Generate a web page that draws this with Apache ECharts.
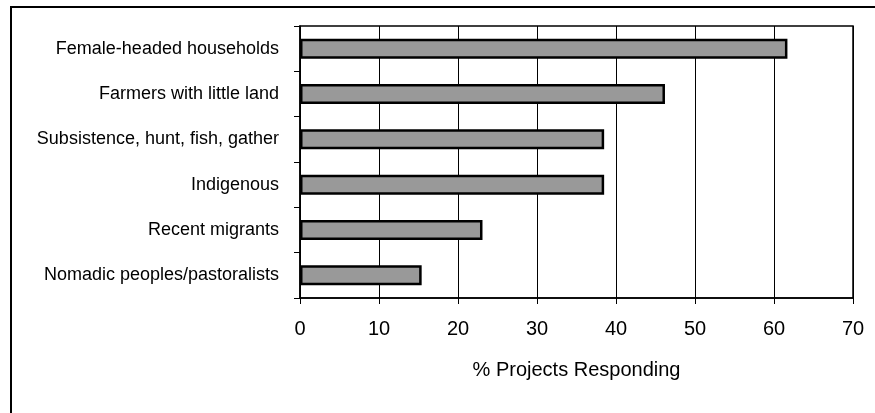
<!DOCTYPE html>
<html>
<head>
<meta charset="utf-8">
<script src="https://cdn.jsdelivr.net/npm/echarts@6/dist/echarts.min.js"></script>
<style>
  html, body { margin: 0; padding: 0; background: #fff; overflow: hidden; }
  #frame { position: absolute; left: 10px; top: 6px; width: 900px; height: 440px;
           border-left: 2px solid #000; border-top: 2px solid #000; }
  #chart { position: absolute; left: 0; top: 0; width: 875px; height: 413px; }
</style>
</head>
<body>
<div id="frame"></div>
<div id="chart"></div>
<script>
const categories = [
  'Female-headed households',
  'Farmers with little land',
  'Subsistence, hunt, fish, gather',
  'Indigenous',
  'Recent migrants',
  'Nomadic peoples/pastoralists'
];
const values = [61.7, 46.2, 38.5, 38.5, 23.1, 15.4];
const xTicks = { min: 0, max: 70, interval: 10 };
const xTitle = '% Projects Responding';

const chart = echarts.init(document.getElementById('chart'), null, { renderer: 'canvas' });
const font = 'Liberation Sans, Arial, Helvetica, sans-serif';
chart.setOption({
  animation: false,
  backgroundColor: 'transparent',
  grid: { left: 300, right: 22, top: 26, bottom: 115, show: true, borderColor: '#000', borderWidth: 1.5 },
  xAxis: {
    type: 'value',
    min: xTicks.min, max: xTicks.max, interval: xTicks.interval,
    name: xTitle, nameLocation: 'middle', nameGap: 62,
    nameTextStyle: { fontFamily: font, fontSize: 20, color: '#000' },
    axisLine: { show: true, lineStyle: { color: '#000', width: 1.5 } },
    axisTick: { show: true, length: 6, lineStyle: { color: '#000' } },
    axisLabel: { fontFamily: font, fontSize: 20, color: '#000', margin: 21 },
    splitLine: { show: true, lineStyle: { color: '#000', width: 1 } }
  },
  yAxis: {
    type: 'category', data: categories, inverse: true,
    axisLine: { show: true, lineStyle: { color: '#000', width: 1.5 } },
    axisTick: { show: true, length: 6, lineStyle: { color: '#000' } },
    axisLabel: { fontFamily: font, fontSize: 18, color: '#000', margin: 21 },
    splitLine: { show: false }
  },
  series: [{
    type: 'bar', data: values, barWidth: 20,
    itemStyle: { color: '#999999', borderColor: '#000', borderWidth: 2.5 }
  }]
});
</script>
</body>
</html>
